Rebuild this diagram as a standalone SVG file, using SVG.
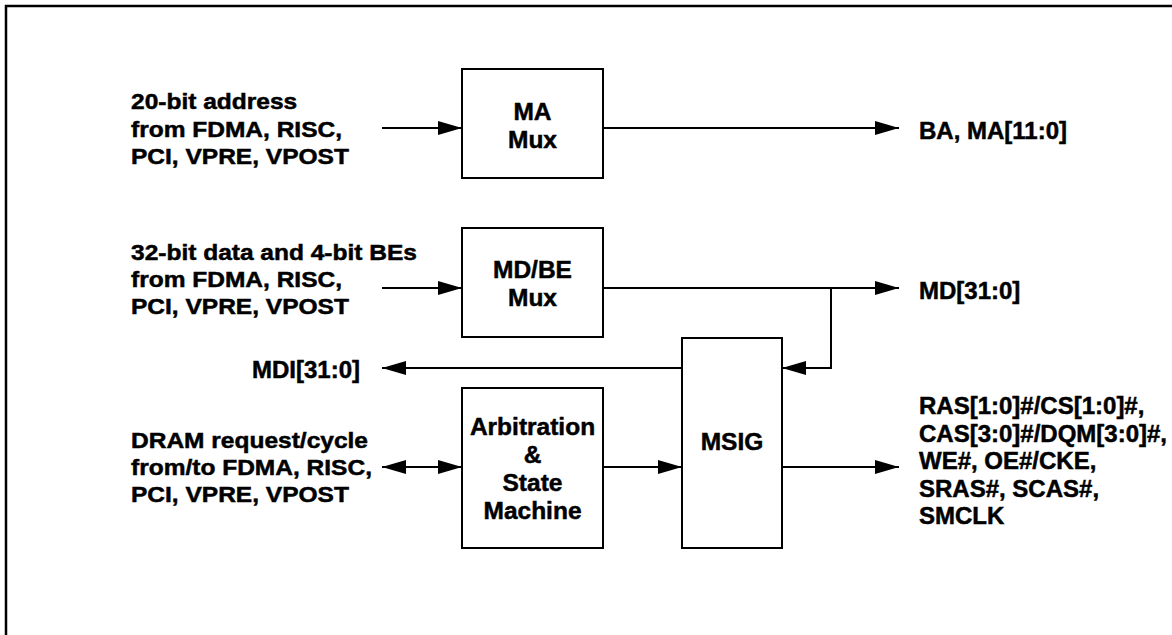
<svg xmlns="http://www.w3.org/2000/svg" width="1172" height="635" viewBox="0 0 1172 635">
<defs>
<marker id="ah" markerUnits="userSpaceOnUse" markerWidth="24" markerHeight="14" refX="24" refY="7" orient="auto-start-reverse" viewBox="0 0 24 14">
<path d="M0,0 L24,7 L0,14 Z" fill="#000"/>
</marker>
<style>
.box{fill:#fff;stroke:#000;stroke-width:2}
.w{fill:none;stroke:#000;stroke-width:2}
text{font-family:"Liberation Sans",Arial,sans-serif;font-weight:bold;font-size:24px;fill:#000;stroke:#000;stroke-width:0.5}
.c{text-anchor:middle;font-size:24.5px}
.l{font-size:22.5px}
</style>
</defs>
<rect width="1172" height="635" fill="#fff"/>
<rect x="6" y="6" width="1200" height="660" fill="none" stroke="#000" stroke-width="2.5"/>
<g id="connectors">
<path class="w" d="M382,128 H462" marker-end="url(#ah)"/>
<path class="w" d="M603,128 H899" marker-end="url(#ah)"/>
<path class="w" d="M382,288 H462" marker-end="url(#ah)"/>
<path class="w" d="M603,288 H899" marker-end="url(#ah)"/>
<path class="w" d="M831,288 V368 H782" marker-end="url(#ah)"/>
<path class="w" d="M682,368 H382" marker-end="url(#ah)"/>
<path class="w" d="M382,467 H462" marker-start="url(#ah)" marker-end="url(#ah)"/>
<path class="w" d="M603,467 H682" marker-end="url(#ah)"/>
<path class="w" d="M782,467 H899" marker-end="url(#ah)"/>
</g>
<g id="ma-mux">
<rect class="box" x="462" y="69" width="141" height="109"/>
<text class="c" x="532.5" y="119.5">MA</text>
<text class="c" x="532.5" y="147.5">Mux</text>
</g>
<g id="mdbe-mux">
<rect class="box" x="462" y="228" width="141" height="109"/>
<text class="c" x="532.5" y="278">MD/BE</text>
<text class="c" x="532.5" y="306">Mux</text>
</g>
<g id="arbitration">
<rect class="box" x="462" y="388" width="141" height="160"/>
<text class="c" x="532.5" y="435">Arbitration</text>
<text class="c" x="532.5" y="463">&amp;</text>
<text class="c" x="532.5" y="491">State</text>
<text class="c" x="532.5" y="519">Machine</text>
</g>
<g id="msig">
<rect class="box" x="682" y="338" width="100" height="210"/>
<text class="c" x="732" y="450">MSIG</text>
</g>
<g id="addr-in">
<text class="l" transform="translate(131,0) scale(1.09,1)"><tspan x="0" y="109.5">20-bit address</tspan><tspan x="0" y="137">from FDMA, RISC,</tspan><tspan x="0" y="164">PCI, VPRE, VPOST</tspan></text>
</g>
<g id="data-in">
<text class="l" transform="translate(131,0) scale(1.09,1)"><tspan x="0" y="260">32-bit data and 4-bit BEs</tspan><tspan x="0" y="287">from FDMA, RISC,</tspan><tspan x="0" y="314">PCI, VPRE, VPOST</tspan></text>
</g>
<g id="dram-io">
<text class="l" transform="translate(131,0) scale(1.09,1)"><tspan x="0" y="448">DRAM request/cycle</tspan><tspan x="0" y="475.5">from/to FDMA, RISC,</tspan><tspan x="0" y="502.5">PCI, VPRE, VPOST</tspan></text>
</g>
<g id="mdi-out">
<text x="360" y="378" text-anchor="end">MDI[31:0]</text>
</g>
<g id="ba-ma-out">
<text x="919" y="138.5">BA, MA[11:0]</text>
</g>
<g id="md-out">
<text x="919" y="298.5">MD[31:0]</text>
</g>
<g id="ctrl-out">
<text x="919"><tspan x="919" y="414">RAS[1:0]#/CS[1:0]#,</tspan><tspan x="919" y="441.5">CAS[3:0]#/DQM[3:0]#,</tspan><tspan x="919" y="469">WE#, OE#/CKE,</tspan><tspan x="919" y="496.5">SRAS#, SCAS#,</tspan><tspan x="919" y="524">SMCLK</tspan></text>
</g>
</svg>
